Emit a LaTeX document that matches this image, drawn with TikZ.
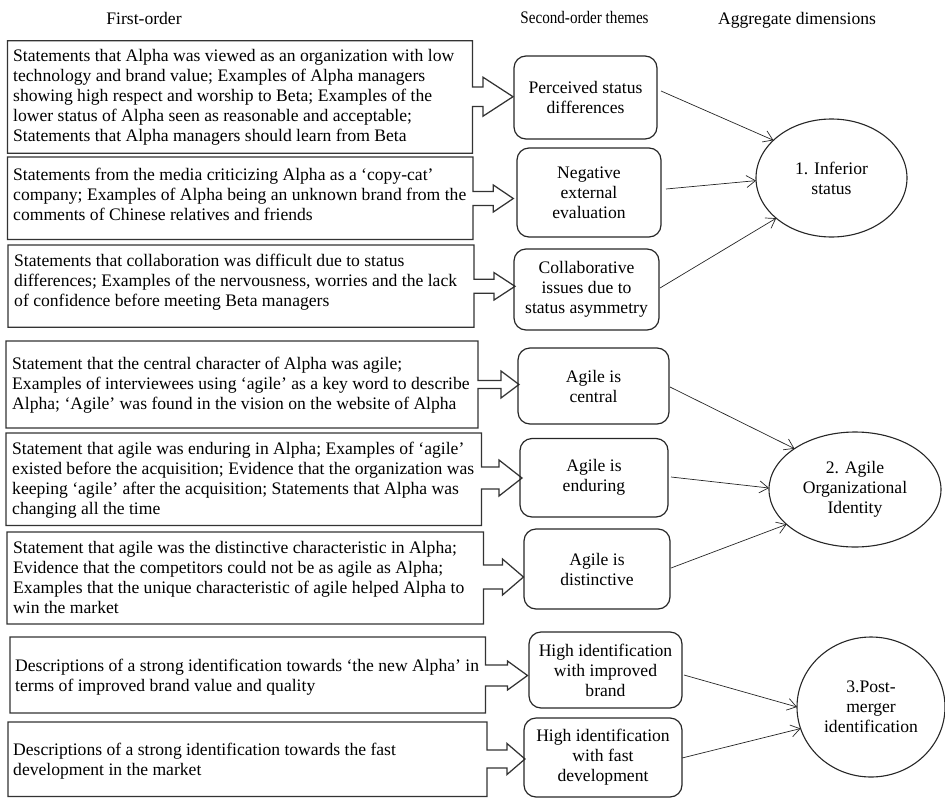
\documentclass[tikz,border=0pt]{standalone}
\usepackage{fontspec}
\setmainfont{Liberation Serif}
\usepackage{graphicx}
\usetikzlibrary{arrows.meta,shapes.geometric,calc}

% callout: left, top, right, bottom, tip x, tip y, head length, head half height, shaft half height
\newcommand\calloutpath[9]{%
  \draw[calloutline] (#1,#2) -- (#3,#2) -- (#3,#6-#9) -- (#5-#7,#6-#9) -- (#5-#7,#6-#8)
    -- (#5,#6) -- (#5-#7,#6+#8) -- (#5-#7,#6+#9) -- (#3,#6+#9) -- (#3,#4) -- (#1,#4) -- cycle;}

\begin{document}
\begin{tikzpicture}[x=1pt,y=-1pt,
  ftext/.style={anchor=west,inner sep=0pt,align=left,font=\fontsize{17.6}{20}\selectfont},
  theme/.style={draw=black!85,line width=1.2pt,rounded corners=12pt,inner sep=0pt,outer sep=0pt,align=center,font=\fontsize{17.6}{20}\selectfont},
  dim/.style={draw=black!85,line width=1.1pt,ellipse,inner sep=0pt,outer sep=0pt,align=center,font=\fontsize{17.6}{20}\selectfont},
  calloutline/.style={draw=black!80,line width=1.25pt},
  link/.style={draw=black!85,line width=0.7pt,-{Straight Barb[length=9pt,width=12pt]}},
  head/.style={font=\fontsize{17.6}{20}\selectfont,inner sep=0pt}
]
\useasboundingbox (0,0) rectangle (945,798);

% headers
\node[head] (h1) at (144,18) {First-order};
\node[head] (h2) at (584.5,17) {\scalebox{0.86}[1]{Second-order themes}};
\node[head] (h3) at (797,20) {Aggregate dimensions};

% callout outlines
\calloutpath{7.5}{40.7}{472.5}{153.3}{513}{96.7}{30}{19.5}{9.7}
\calloutpath{7.5}{157}{473}{239.5}{513.3}{198.5}{20}{13.5}{7}
\calloutpath{8}{245}{474}{327.3}{515}{286.3}{21}{13.7}{7}
\calloutpath{6}{341}{478}{428}{519}{384.5}{18}{13.5}{4}
\calloutpath{6}{433}{481.5}{525.5}{522}{478}{23}{18}{11}
\calloutpath{7}{532}{483.5}{624}{523.5}{577}{21}{18}{12}
\calloutpath{10}{637}{485.5}{713}{527.5}{675.5}{20}{14.5}{10.5}
\calloutpath{8}{722}{487}{796.5}{525}{759}{18}{15.5}{9}

% first-order texts
\node[ftext] (f1) at (13,97.3) {Statements that Alpha was viewed as an organization with low\\technology and brand value; Examples of Alpha managers\\showing high respect and worship to Beta; Examples of the\\lower status of Alpha seen as reasonable and acceptable;\\Statements that Alpha managers should learn from Beta};
\node[ftext] (f2) at (13,194.5) {Statements from the media criticizing Alpha as a ‘copy-cat’\\company; Examples of Alpha being an unknown brand from the\\comments of Chinese relatives and friends};
\node[ftext] (f3) at (14,282) {Statements that collaboration was difficult due to status\\differences; Examples of the nervousness, worries and the lack\\of confidence before meeting Beta managers};
\node[ftext] (f4) at (12,385) {Statement that the central character of Alpha was agile;\\Examples of interviewees using ‘agile’ as a key word to describe\\Alpha; ‘Agile’ was found in the vision on the website of Alpha};
\node[ftext] (f5) at (12,480) {Statement that agile was enduring in Alpha; Examples of ‘agile’\\existed before the acquisition; Evidence that the organization was\\keeping ‘agile’ after the acquisition; Statements that Alpha was\\changing all the time};
\node[ftext] (f6) at (13,577) {Statement that agile was the distinctive characteristic in Alpha;\\Evidence that the competitors could not be as agile as Alpha;\\Examples that the unique characteristic of agile helped Alpha to\\win the market};
\node[ftext] (f7) at (15,677) {Descriptions of a strong identification towards ‘the new Alpha’ in\\terms of improved brand value and quality};
\node[ftext] (f8) at (13,761) {Descriptions of a strong identification towards the fast\\development in the market};

% second-order themes
\node[theme,minimum width=143pt,minimum height=83pt] (r1) at (585.5,97.5) {Perceived status\\differences};
\node[theme,minimum width=144pt,minimum height=89pt] (r2) at (589,192.5) {Negative\\external\\evaluation};
\node[theme,minimum width=145pt,minimum height=81pt] (r3) at (586.5,289.5) {Collaborative\\issues due to\\status asymmetry};
\node[theme,minimum width=151pt,minimum height=76pt] (r4) at (593.5,386) {Agile is\\central};
\node[theme,minimum width=148pt,minimum height=78.5pt] (r5) at (594,477.75) {Agile is\\enduring};
\node[theme,minimum width=146pt,minimum height=80pt] (r6) at (597,569) {Agile is\\distinctive};
\node[theme,minimum width=153pt,minimum height=76pt] (r7) at (605.5,670) {High identification\\with improved\\brand};
\node[theme,minimum width=158pt,minimum height=79pt] (r8) at (603,757.5) {High identification\\with fast\\development};

% aggregate dimensions
\node[dim,minimum width=151pt,minimum height=118pt] (e1) at (831.5,178) {1. Inferior\\status};
\node[dim,minimum width=172pt,minimum height=115pt] (e2) at (855,489.5) {2. Agile\\Organizational\\Identity};
\node[dim,minimum width=148pt,minimum height=140pt] (e3) at (871,707) {3.Post-\\merger\\identification};

% links
\draw[link] ([shift={(4,-6.5)}]r1.east) -- (e1.147);
\draw[link] ([shift={(5,-3.5)}]r2.east) -- (e1.182);
\draw[link] ([shift={(1,-1.5)}]r3.east) -- (e1.216);
\draw[link] ([shift={(1,1)}]r4.east) -- (e2.146);
\draw[link] ([shift={(3,-0.75)}]r5.east) -- (e2.179);
\draw[link] ([shift={(1,-1)}]r6.east) -- (e2.207);
\draw[link] ([shift={(2,5)}]r7.east) -- (e3.180);
\draw[link] ([shift={(0,0.5)}]r8.east) -- (e3.197);
\end{tikzpicture}
\end{document}
